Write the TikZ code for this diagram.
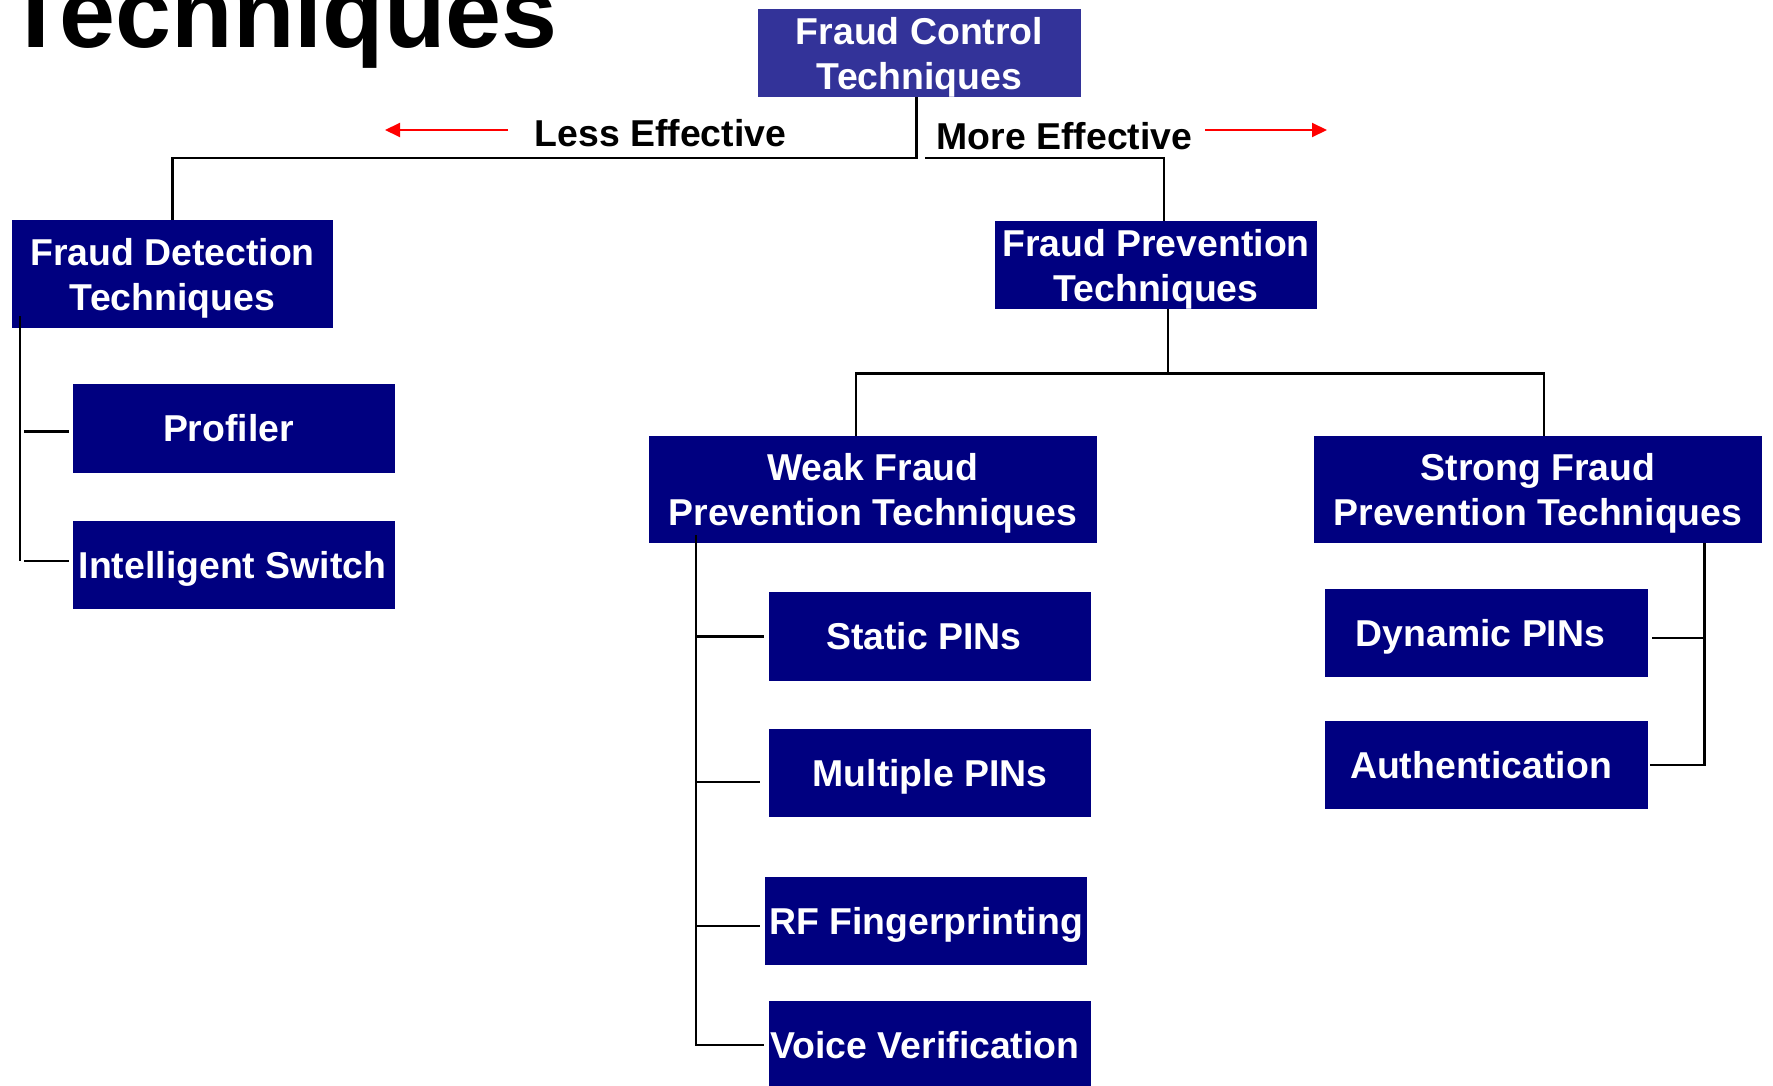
\documentclass[tikz,border=0pt]{standalone}
\usepackage{fontspec}
\setmainfont{Liberation Sans}
\usetikzlibrary{arrows.meta}
\definecolor{boxnavy}{RGB}{0,0,128}
\definecolor{rootblue}{RGB}{51,51,153}
\definecolor{arrowred}{RGB}{255,0,0}
\begin{document}
\begin{tikzpicture}[x=1pt,y=-1pt,
  techbox/.style={fill=boxnavy,text=white,inner sep=0pt,
    font=\fontsize{37.4}{45}\selectfont\bfseries},
  onebox/.style={techbox,text height=26.5pt,text depth=0pt},
  twobox/.style={techbox,align=center,text depth=0pt},
  rootbox/.style={twobox,fill=rootblue},
  link/.style={draw=black,line width=2.6pt},
  effarrow/.style={draw=arrowred,line width=2pt,-{Triangle[length=15pt,width=14pt]}},
  efflabel/.style={anchor=base,inner sep=0pt,font=\fontsize{37.4}{45}\selectfont\bfseries}]
\useasboundingbox (0,0) rectangle (1773,1086);

% heading, partly above the page
\node[anchor=base west,inner sep=0pt,font=\fontsize{100.6}{110}\selectfont\bfseries] (title) at (5.6,48) {Techniques};

% root
\node[rootbox,minimum width=323pt,minimum height=88pt] (ctl) at (919.5,53) {Fraud Control\\Techniques};

% first level
\node[twobox,minimum width=321pt,minimum height=108pt] (det) at (172.5,274) {Fraud Detection\\Techniques};
\node[twobox,minimum width=322pt,minimum height=88pt] (prev) at (1156,265) {Fraud Prevention\\Techniques};

% detection techniques
\node[onebox,minimum width=322pt,minimum height=89pt] (prof) at (234,428.5) {Profiler\hspace*{11pt}};
\node[onebox,minimum width=322pt,minimum height=88pt] (intel) at (234,565) {Intelligent Switch\hspace*{3pt}};

% prevention families
\node[twobox,minimum width=448pt,minimum height=107pt] (weak) at (873,489.5) {Weak Fraud\\Prevention Techniques};
\node[twobox,minimum width=448pt,minimum height=107pt] (strong) at (1538,489.5) {Strong Fraud\\Prevention Techniques};

% weak techniques
\node[onebox,minimum width=322pt,minimum height=89pt] (static) at (930,636.5) {Static PINs\hspace*{12pt}};
\node[onebox,minimum width=322pt,minimum height=88pt] (multi) at (930,773) {Multiple PINs};
\node[onebox,minimum width=322pt,minimum height=88pt] (rf) at (926,921) {RF Fingerprinting};
\node[onebox,minimum width=322pt,minimum height=88pt] (voice) at (930,1045) {Voice Verification\hspace*{10pt}};

% strong techniques
\node[onebox,minimum width=323pt,minimum height=88pt] (dyn) at (1486.5,633) {Dynamic PINs\hspace*{12pt}};
\node[onebox,minimum width=323pt,minimum height=88pt] (auth) at (1486.5,765) {Authentication\hspace*{11pt}};

% effectiveness labels and arrows
\node[efflabel] (less) at (660.5,147) {Less Effective};
\node[efflabel] (more) at (1064.5,150) {More Effective};
\coordinate (lessfrom) at (508,130);
\coordinate (lessto) at (385,130);
\coordinate (morefrom) at (1205,130);
\coordinate (moreto) at (1327,130);
\draw[effarrow] (lessfrom) -- (lessto);
\draw[effarrow] (morefrom) -- (moreto);

% root to first level
\draw[link] ([xshift=-3pt]ctl.south) -- ++(0,61) -| (det.north);
\coordinate (rstart) at (925,158);
\draw[link] (rstart) -| ([xshift=8pt]prev.north);

% prevention to families
\draw[link] ([xshift=12pt]prev.south) -- ++(0,64) coordinate (pj);
\draw[link] ([xshift=-17pt]weak.north) |- (pj);
\draw[link] (pj) -| ([xshift=6pt]strong.north);

% detection branch
\draw[link] ([shift={(8,-12)}]det.south west) -- ([shift={(8,233)}]det.south west);
\draw[link] ([xshift=-48.5pt,yshift=-3pt]prof.west) -- ([xshift=-4pt,yshift=-3pt]prof.west);
\draw[link] ([xshift=-48.5pt,yshift=4pt]intel.west) -- ([xshift=-4pt,yshift=4pt]intel.west);

% weak branch
\draw[link] ([shift={(47,-8)}]weak.south west) |- ([xshift=-5pt]voice.west);
\draw[link] ([xshift=-73pt]static.west) -- ([xshift=-5pt]static.west);
\draw[link] ([xshift=-73pt,yshift=-9pt]multi.west) -- ([xshift=-9pt,yshift=-9pt]multi.west);
\draw[link] ([xshift=-69pt,yshift=-5pt]rf.west) -- ([xshift=-5pt,yshift=-5pt]rf.west);

% strong branch
\draw[link] ([xshift=-58pt]strong.south east) |- ([xshift=2pt]auth.east);
\draw[link] ([xshift=4pt,yshift=-5pt]dyn.east) -- ([xshift=56pt,yshift=-5pt]dyn.east);
\end{tikzpicture}
\end{document}
